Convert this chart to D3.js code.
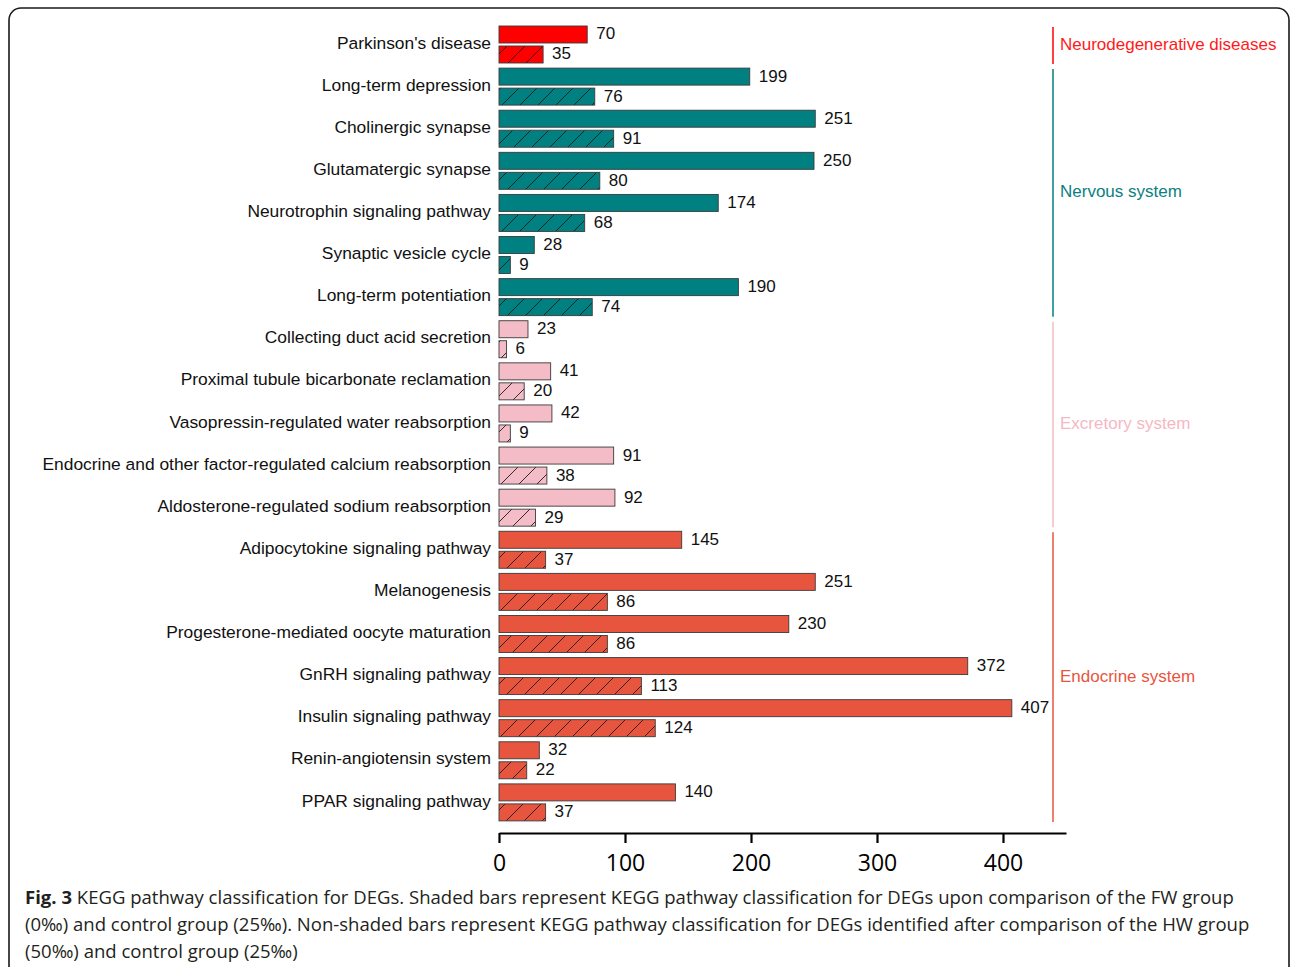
<!DOCTYPE html>
<html>
<head>
<meta charset="utf-8">
<script src="https://cdn.jsdelivr.net/npm/d3@7/dist/d3.min.js"></script>
<style>
  html, body { margin: 0; padding: 0; background: #fff; }
  svg { display: block; }
</style>
</head>
<body>
<svg id="chart" width="1292" height="967"></svg>
<script>
// KEGG pathways (top to bottom)
const categories = [
  "Parkinson's disease",
  "Long-term depression",
  "Cholinergic synapse",
  "Glutamatergic synapse",
  "Neurotrophin signaling pathway",
  "Synaptic vesicle cycle",
  "Long-term potentiation",
  "Collecting duct acid secretion",
  "Proximal tubule bicarbonate reclamation",
  "Vasopressin-regulated water reabsorption",
  "Endocrine and other factor-regulated calcium reabsorption",
  "Aldosterone-regulated sodium reabsorption",
  "Adipocytokine signaling pathway",
  "Melanogenesis",
  "Progesterone-mediated oocyte maturation",
  "GnRH signaling pathway",
  "Insulin signaling pathway",
  "Renin-angiotensin system",
  "PPAR signaling pathway"
];

// Non-shaded: HW (50‰) vs control (25‰)
const hwValues = [70, 199, 251, 250, 174, 28, 190, 23, 41, 42, 91, 92, 145, 251, 230, 372, 407, 32, 140];
// Shaded: FW (0‰) vs control (25‰)
const fwValues = [35, 76, 91, 80, 68, 9, 74, 6, 20, 9, 38, 29, 37, 86, 86, 113, 124, 22, 37];

// Functional class of each pathway
const pathwayGroup = [
  "Neurodegenerative diseases",
  "Nervous system", "Nervous system", "Nervous system", "Nervous system",
  "Nervous system", "Nervous system",
  "Excretory system", "Excretory system", "Excretory system", "Excretory system", "Excretory system",
  "Endocrine system", "Endocrine system", "Endocrine system", "Endocrine system",
  "Endocrine system", "Endocrine system", "Endocrine system"
];

const groupNames = ["Neurodegenerative diseases", "Nervous system", "Excretory system", "Endocrine system"];
const groupColors = ["#ff0000", "#008080", "#f4bcc6", "#e8553e"];
const groupLabelColors = ["#ff1a1a", "#0a7f7f", "#f6b7c5", "#e8553e"];

const tickValues = [0, 100, 200, 300, 400];

const captionLines = [
  [{ t: "Fig. 3", b: true }, { t: " KEGG pathway classification for DEGs. Shaded bars represent KEGG pathway classification for DEGs upon comparison of the FW group" }],
  [{ t: "(0‰) and control group (25‰). Non-shaded bars represent KEGG pathway classification for DEGs identified after comparison of the HW group" }],
  [{ t: "(50‰) and control group (25‰)" }]
];

const svg = d3.select("#chart");

// Page frame with rounded top corners
svg.append("rect")
  .attr("x", 9).attr("y", 8)
  .attr("width", 1280).attr("height", 1000)
  .attr("rx", 12).attr("ry", 12)
  .attr("fill", "none")
  .attr("stroke", "#1a1a1a")
  .attr("stroke-width", 1.6);

const x = d3.scaleLinear().domain([0, 450]).range([499, 1066]);
const y = d3.scaleBand().domain(categories).range([24, 824]).paddingInner(0).paddingOuter(0);
const sub = d3.scaleBand().domain(["hw", "fw"]).range([2, 39]).paddingInner(0.15).paddingOuter(0);

const colorOf = d3.scaleOrdinal().domain(groupNames).range(groupColors);
const labelColorOf = d3.scaleOrdinal().domain(groupNames).range(groupLabelColors);

// Hatch patterns, one per group colour
const defs = svg.append("defs");
groupNames.forEach((g, i) => {
  const p = defs.append("pattern")
    .attr("id", "hatch" + i)
    .attr("patternUnits", "userSpaceOnUse")
    .attr("width", 18).attr("height", 18)
    .attr("x", 499).attr("y", 0);
  p.append("rect").attr("width", 18).attr("height", 18).attr("fill", groupColors[i]);
  p.append("line")
    .attr("x1", 0).attr("y1", 18).attr("x2", 18).attr("y2", 0)
    .attr("stroke", "#1a1a1a").attr("stroke-width", 0.9);
  p.append("line")
    .attr("x1", -2).attr("y1", 2).attr("x2", 2).attr("y2", -2)
    .attr("stroke", "#1a1a1a").attr("stroke-width", 0.9);
  p.append("line")
    .attr("x1", 16).attr("y1", 20).attr("x2", 20).attr("y2", 16)
    .attr("stroke", "#1a1a1a").attr("stroke-width", 0.9);
});

const rows = categories.map((c, i) => ({
  cat: c, hw: hwValues[i], fw: fwValues[i], group: pathwayGroup[i]
}));

const labelFont = "'Liberation Sans', Arial, sans-serif";

// Category labels
svg.append("g").selectAll("text")
  .data(rows).join("text")
  .attr("x", 491)
  .attr("y", d => y(d.cat) + y.bandwidth() / 2 - 1)
  .attr("text-anchor", "end")
  .attr("dominant-baseline", "middle")
  .attr("font-family", labelFont)
  .attr("font-size", 17.4)
  .attr("fill", "#111")
  .text(d => d.cat);

// Bars
const barG = svg.append("g");
const series = [
  { key: "hw", fill: d => colorOf(d.group) },
  { key: "fw", fill: d => "url(#hatch" + groupNames.indexOf(d.group) + ")" }
];
series.forEach(s => {
  barG.append("g").selectAll("rect")
    .data(rows).join("rect")
    .attr("x", x(0))
    .attr("y", d => y(d.cat) + sub(s.key))
    .attr("width", d => x(d[s.key]) - x(0))
    .attr("height", sub.bandwidth())
    .attr("fill", s.fill)
    .attr("stroke", "#3a3a3a")
    .attr("stroke-width", 0.9);

  barG.append("g").selectAll("text")
    .data(rows).join("text")
    .attr("x", d => x(d[s.key]) + 9)
    .attr("y", d => y(d.cat) + sub(s.key) + sub.bandwidth() / 2 + 0.5)
    .attr("dominant-baseline", "middle")
    .attr("font-family", labelFont)
    .attr("font-size", 17)
    .attr("fill", "#111")
    .text(d => d[s.key]);
});

// Group brackets on the right
groupNames.forEach((g, i) => {
  const members = categories.filter((c, j) => pathwayGroup[j] === g);
  const top = y(members[0]) + 3;
  const bottom = y(members[members.length - 1]) + y.bandwidth() - 2;
  svg.append("line")
    .attr("x1", 1053).attr("x2", 1053)
    .attr("y1", top).attr("y2", bottom)
    .attr("stroke", colorOf(g))
    .attr("stroke-width", 1.5);
  svg.append("text")
    .attr("x", 1060)
    .attr("y", (top + bottom) / 2)
    .attr("dominant-baseline", "middle")
    .attr("font-family", labelFont)
    .attr("font-size", 17)
    .attr("fill", labelColorOf(g))
    .text(g);
});

// X axis
const xAxis = svg.append("g")
  .attr("transform", "translate(0,833)")
  .call(d3.axisBottom(x).tickValues(tickValues).tickSize(10).tickSizeOuter(0).tickPadding(12));
xAxis.select(".domain").attr("stroke", "#000").attr("stroke-width", 2.2);
xAxis.selectAll(".tick line").attr("stroke", "#000").attr("stroke-width", 2.2);
xAxis.selectAll(".tick text")
  .attr("font-family", "'Open Sans', sans-serif")
  .attr("font-size", 23)
  .attr("fill", "#000");

// Caption
const cap = svg.append("g")
  .attr("font-family", "'Open Sans', sans-serif")
  .attr("font-size", 18.55)
  .attr("fill", "#231f20");
captionLines.forEach((line, i) => {
  const t = cap.append("text").attr("x", 25).attr("y", 904 + i * 27);
  line.forEach(seg => {
    t.append("tspan").attr("font-weight", seg.b ? 700 : 400).text(seg.t);
  });
});
</script>
</body>
</html>
